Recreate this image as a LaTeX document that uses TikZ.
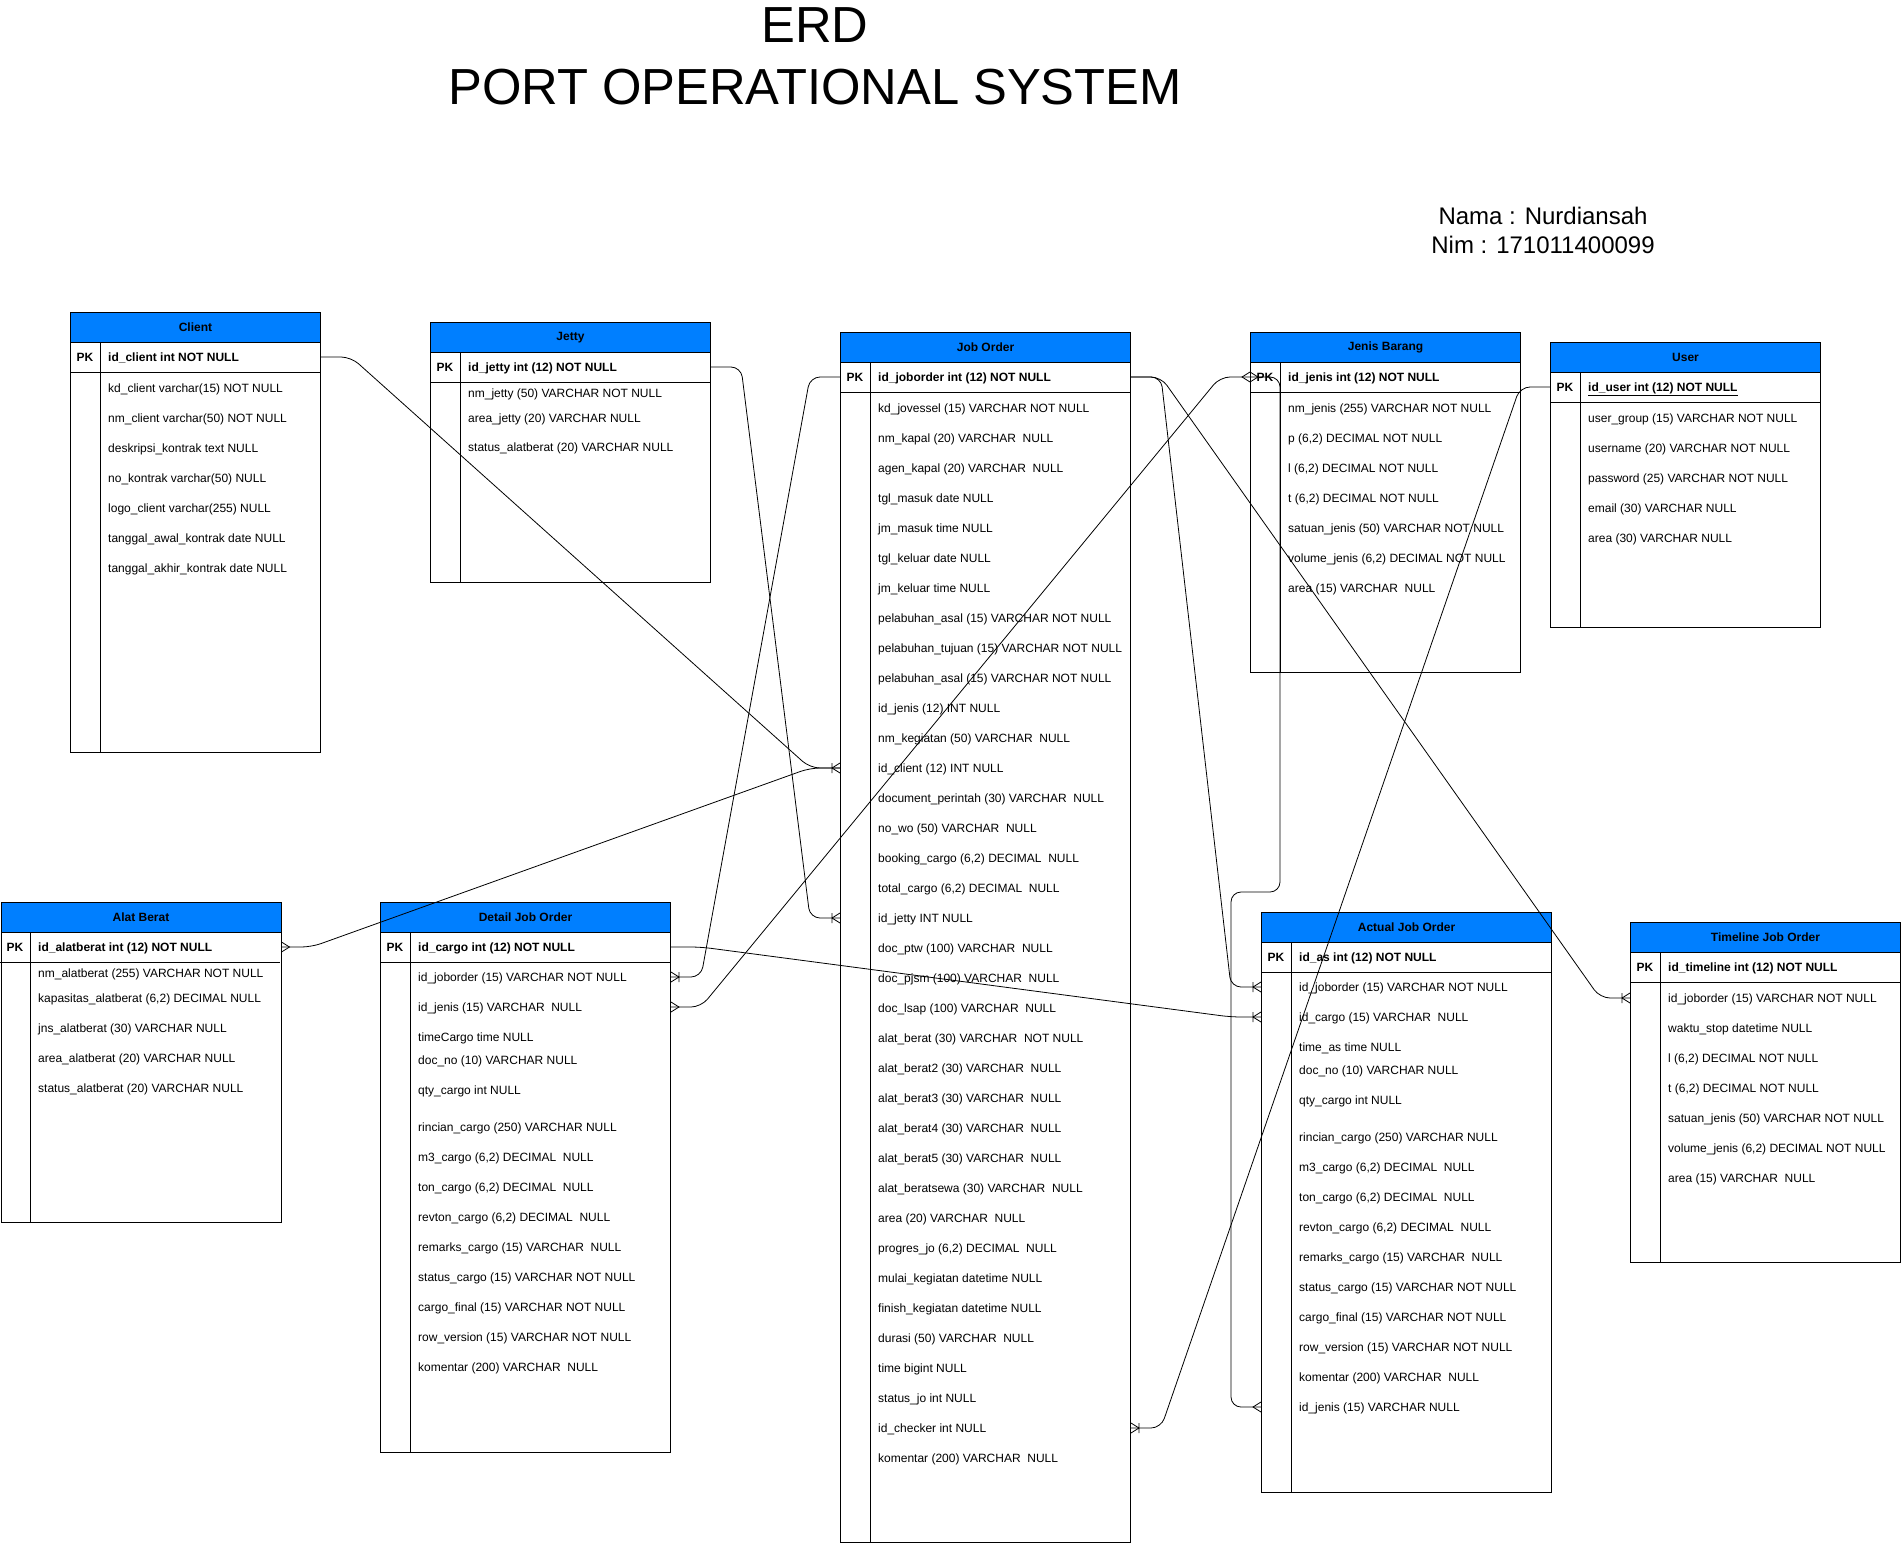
\documentclass[tikz,border=0pt]{standalone}
\usepackage{fontspec}
\setmainfont{Liberation Sans}
\usetikzlibrary{calc}

\newcommand\erfont{\fontsize{12}{14.4}\selectfont}
\definecolor{erblue}{RGB}{0,127,255}
\tikzset{
  entity/.style={draw, line width=1pt, anchor=north west, inner sep=0pt, fill=white},
  head/.style={draw, line width=1pt, fill=erblue, anchor=north west, inner sep=0pt,
    minimum height=30pt, font=\erfont\bfseries},
  pk/.style={inner sep=0pt, text height=8.5pt, text depth=0.3pt, font=\erfont\bfseries},
  fld/.style={anchor=west, inner sep=0pt, text height=8.5pt, text depth=0.3pt},
  keyfld/.style={fld, font=\erfont\bfseries},
  rel/.style={line width=0.8pt, rounded corners=10pt},
  crow/.style={line width=0.8pt},
  many/.pic={\draw[crow] (0,-5) -- (8,0) -- (0,5);},
  onemany/.pic={\draw[crow] (0,-5) -- (8,0) -- (0,5) (8,-5) -- (8,5);}
}

\begin{document}
\begin{tikzpicture}[x=1pt, y=-1pt, font=\erfont]
\useasboundingbox (0,0) rectangle (1901,1544);

%% Title
\node[font=\fontsize{50.7}{61}\selectfont] (title1) at (815,25) {ERD};
\node[font=\fontsize{50.7}{61}\selectfont] (title2) at (815,87) {PORT OPERATIONAL SYSTEM};
\node[font=\fontsize{24}{29}\selectfont] (nama) at (1543,216) {Nama : Nurdiansah};
\node[font=\fontsize{24}{29}\selectfont] (nim) at (1543,245) {Nim : 171011400099};

%% Client
\node[entity, minimum width=250pt, minimum height=440pt] (client) at (70,312) {};
\node[head, minimum width=250pt] (client-h) at (70,312) {Client};
\draw[line width=1pt] (70,372) -- (320,372) (100,342) -- (100,752);
\node[pk] (client-k) at (85,357) {PK};
\node[keyfld] (client-pk) at (108,357) {id\_client int NOT NULL};
\foreach \t [count=\i] in {kd\_client varchar(15) NOT NULL, nm\_client varchar(50) NOT NULL,
  deskripsi\_kontrak text NULL, no\_kontrak varchar(50) NULL, logo\_client varchar(255) NULL,
  tanggal\_awal\_kontrak date NULL, tanggal\_akhir\_kontrak date NULL}
  \node[fld] (client-\i) at (108,358+30*\i) {\t};

%% Jetty
\node[entity, minimum width=280pt, minimum height=260pt] (jetty) at (430,322) {};
\node[head, minimum width=280pt] (jetty-h) at (430,322) {Jetty};
\draw[line width=1pt] (430,382) -- (710,382) (460,352) -- (460,582);
\node[pk] (jetty-k) at (445,367) {PK};
\node[keyfld] (jetty-pk) at (468,367) {id\_jetty int (12) NOT NULL};
\foreach \y/\t [count=\i] in {393/nm\_jetty (50) VARCHAR NOT NULL, 418/area\_jetty (20) VARCHAR NULL,
  447/status\_alatberat (20) VARCHAR NULL}
  \node[fld] (jetty-\i) at (468,\y) {\t};

%% Job Order
\node[entity, minimum width=290pt, minimum height=1210pt] (jo) at (840,332) {};
\node[head, minimum width=290pt] (jo-h) at (840,332) {Job Order};
\draw[line width=1pt] (840,392) -- (1130,392) (870,362) -- (870,1542);
\node[pk] (jo-k) at (855,377) {PK};
\node[keyfld] (jo-pk) at (878,377) {id\_joborder int (12) NOT NULL};
\foreach \t [count=\i] in {kd\_jovessel (15) VARCHAR NOT NULL, nm\_kapal (20) VARCHAR \ NULL,
  agen\_kapal (20) VARCHAR \ NULL, tgl\_masuk date NULL, jm\_masuk time NULL,
  tgl\_keluar date NULL, jm\_keluar time NULL, pelabuhan\_asal (15) VARCHAR NOT NULL,
  pelabuhan\_tujuan (15) VARCHAR NOT NULL, pelabuhan\_asal (15) VARCHAR NOT NULL,
  id\_jenis (12) INT NULL, nm\_kegiatan (50) VARCHAR \ NULL, id\_client (12) INT NULL,
  document\_perintah (30) VARCHAR \ NULL, no\_wo (50) VARCHAR \ NULL,
  {booking\_cargo (6,2) DECIMAL \ NULL}, {total\_cargo (6,2) DECIMAL \ NULL},
  id\_jetty INT NULL, doc\_ptw (100) VARCHAR \ NULL, doc\_pjsm (100) VARCHAR \ NULL,
  doc\_lsap (100) VARCHAR \ NULL, alat\_berat (30) VARCHAR \ NOT NULL,
  alat\_berat2 (30) VARCHAR \ NULL, alat\_berat3 (30) VARCHAR \ NULL,
  alat\_berat4 (30) VARCHAR \ NULL, alat\_berat5 (30) VARCHAR \ NULL,
  alat\_beratsewa (30) VARCHAR \ NULL, area (20) VARCHAR \ NULL,
  {progres\_jo (6,2) DECIMAL \ NULL}, mulai\_kegiatan datetime NULL,
  finish\_kegiatan datetime NULL, durasi (50) VARCHAR \ NULL, time bigint NULL,
  status\_jo int NULL, id\_checker int NULL, komentar (200) VARCHAR \ NULL}
  \node[fld] (jo-\i) at (878,378+30*\i) {\t};

%% Jenis Barang
\node[entity, minimum width=270pt, minimum height=340pt] (jenis) at (1250,332) {};
\node[head, minimum width=270pt] (jenis-h) at (1250,332) {Jenis Barang};
\draw[line width=1pt] (1250,392) -- (1520,392) (1280,362) -- (1280,672);
\node[pk] (jenis-k) at (1265,377) {PK};
\node[keyfld] (jenis-pk) at (1288,377) {id\_jenis int (12) NOT NULL};
\foreach \t [count=\i] in {nm\_jenis (255) VARCHAR NOT NULL, {p (6,2) DECIMAL NOT NULL},
  {l (6,2) DECIMAL NOT NULL}, {t (6,2) DECIMAL NOT NULL}, satuan\_jenis (50) VARCHAR NOT NULL,
  {volume\_jenis (6,2) DECIMAL NOT NULL}, area (15) VARCHAR \ NULL}
  \node[fld] (jenis-\i) at (1288,378+30*\i) {\t};

%% User
\node[entity, minimum width=270pt, minimum height=285pt] (user) at (1550,342) {};
\node[head, minimum width=270pt] (user-h) at (1550,342) {User};
\draw[line width=1pt] (1550,402) -- (1820,402) (1580,372) -- (1580,627);
\node[pk] (user-k) at (1565,387) {PK};
\node[keyfld] (user-pk) at (1588,387) {\underline{id\_user int (12) NOT NULL}};
\foreach \t [count=\i] in {user\_group (15) VARCHAR NOT NULL, username (20) VARCHAR NOT NULL,
  password (25) VARCHAR NOT NULL, email (30) VARCHAR NULL, area (30) VARCHAR NULL}
  \node[fld] (user-\i) at (1588,388+30*\i) {\t};

%% Alat Berat
\node[entity, minimum width=280pt, minimum height=320pt] (alat) at (0.5,902) {};
\node[head, minimum width=280pt] (alat-h) at (0.5,902) {Alat Berat};
\draw[line width=1pt] (0,962) -- (280,962) (30,932) -- (30,1222);
\node[pk] (alat-k) at (15,947) {PK};
\node[keyfld] (alat-pk) at (38,947) {id\_alatberat int (12) NOT NULL};
\foreach \y/\t [count=\i] in {973/nm\_alatberat (255) VARCHAR NOT NULL,
  998/{kapasitas\_alatberat (6,2) DECIMAL NULL}, 1028/jns\_alatberat (30) VARCHAR NULL,
  1058/area\_alatberat (20) VARCHAR NULL, 1088/status\_alatberat (20) VARCHAR NULL}
  \node[fld] (alat-\i) at (38,\y) {\t};

%% Detail Job Order
\node[entity, minimum width=290pt, minimum height=550pt] (det) at (380,902) {};
\node[head, minimum width=290pt] (det-h) at (380,902) {Detail Job Order};
\draw[line width=1pt] (380,962) -- (670,962) (410,932) -- (410,1452);
\node[pk] (det-k) at (395,947) {PK};
\node[keyfld] (det-pk) at (418,947) {id\_cargo int (12) NOT NULL};
\foreach \y/\t [count=\i] in {977/id\_joborder (15) VARCHAR NOT NULL, 1007/id\_jenis (15) VARCHAR \ NULL,
  1037/timeCargo time NULL, 1060/doc\_no (10) VARCHAR NULL, 1090/qty\_cargo int NULL,
  1127/rincian\_cargo (250) VARCHAR NULL, 1157/{m3\_cargo (6,2) DECIMAL \ NULL},
  1187/{ton\_cargo (6,2) DECIMAL \ NULL}, 1217/{revton\_cargo (6,2) DECIMAL \ NULL},
  1247/remarks\_cargo (15) VARCHAR \ NULL, 1277/status\_cargo (15) VARCHAR NOT NULL,
  1307/cargo\_final (15) VARCHAR NOT NULL, 1337/row\_version (15) VARCHAR NOT NULL,
  1367/komentar (200) VARCHAR \ NULL}
  \node[fld] (det-\i) at (418,\y) {\t};

%% Actual Job Order
\node[entity, minimum width=290pt, minimum height=580pt] (act) at (1261,912) {};
\node[head, minimum width=290pt] (act-h) at (1261,912) {Actual Job Order};
\draw[line width=1pt] (1261,972) -- (1551,972) (1291,942) -- (1291,1492);
\node[pk] (act-k) at (1276,957) {PK};
\node[keyfld] (act-pk) at (1299,957) {id\_as int (12) NOT NULL};
\foreach \y/\t [count=\i] in {987/id\_joborder (15) VARCHAR NOT NULL, 1017/id\_cargo (15) VARCHAR \ NULL,
  1047/time\_as time NULL, 1070/doc\_no (10) VARCHAR NULL, 1100/qty\_cargo int NULL,
  1137/rincian\_cargo (250) VARCHAR NULL, 1167/{m3\_cargo (6,2) DECIMAL \ NULL},
  1197/{ton\_cargo (6,2) DECIMAL \ NULL}, 1227/{revton\_cargo (6,2) DECIMAL \ NULL},
  1257/remarks\_cargo (15) VARCHAR \ NULL, 1287/status\_cargo (15) VARCHAR NOT NULL,
  1317/cargo\_final (15) VARCHAR NOT NULL, 1347/row\_version (15) VARCHAR NOT NULL,
  1377/komentar (200) VARCHAR \ NULL, 1407/id\_jenis (15) VARCHAR NULL}
  \node[fld] (act-\i) at (1299,\y) {\t};

%% Timeline Job Order
\node[entity, minimum width=270pt, minimum height=340pt] (tl) at (1630,922) {};
\node[head, minimum width=270pt] (tl-h) at (1630,922) {Timeline Job Order};
\draw[line width=1pt] (1630,982) -- (1900,982) (1660,952) -- (1660,1262);
\node[pk] (tl-k) at (1645,967) {PK};
\node[keyfld] (tl-pk) at (1668,967) {id\_timeline int (12) NOT NULL};
\foreach \t [count=\i] in {id\_joborder (15) VARCHAR NOT NULL, waktu\_stop datetime NULL,
  {l (6,2) DECIMAL NOT NULL}, {t (6,2) DECIMAL NOT NULL}, satuan\_jenis (50) VARCHAR NOT NULL,
  {volume\_jenis (6,2) DECIMAL NOT NULL}, area (15) VARCHAR \ NULL}
  \node[fld] (tl-\i) at (1668,968+30*\i) {\t};

%% Relations
\draw[rel] (client.east |- client-pk) -- ++(30,0) -- ($(jo.west |- jo-13)+(-30,0)$) -- (jo.west |- jo-13);
\draw[rel] (alat.east |- alat-pk) -- ++(30,0) -- ($(jo.west |- jo-13)+(-30,0)$) -- (jo.west |- jo-13);
\draw[rel] (jetty.east |- jetty-pk) -- ++(30,0) -- ($(jo.west |- jo-18)+(-30,0)$) -- (jo.west |- jo-18);
\draw[rel] (det.east |- det-1) -- ++(30,0) -- ($(jo.west |- jo-pk)+(-30,0)$) -- (jo.west |- jo-pk);
\draw[rel] (det.east |- det-2) -- ++(30,0) -- ($(jenis.west |- jenis-pk)+(-30,0)$) -- (jenis.west |- jenis-pk);
\draw[rel] (jo.east |- jo-pk) -- ++(30,0) -- ($(act.west |- act-1)+(-30,0)$) -- (act.west |- act-1);
\draw[rel] (jo.east |- jo-pk) -- ++(30,0) -- ($(tl.west |- tl-1)+(-30,0)$) -- (tl.west |- tl-1);
\draw[rel] (det.east |- det-pk) -- ++(30,0) -- ($(act.west |- act-2)+(-30,0)$) -- (act.west |- act-2);
\draw[rel] (jenis.west |- jenis-pk) -- ++(30,0) -- ++(0,515) -| ($(act.west |- act-15)+(-30,0)$) -- (act.west |- act-15);
\draw[rel] (user.west |- user-pk) -- ++(-30,0) -- ($(jo.east |- jo-35)+(30,0)$) -- (jo.east |- jo-35);

%% Crow's feet
\pic[rotate=180] at (jo.west |- jo-13) {onemany};
\pic[rotate=180] at (jo.west |- jo-18) {onemany};
\pic at (alat.east |- alat-pk) {many};
\pic at (det.east |- det-1) {onemany};
\pic at (det.east |- det-2) {many};
\pic[rotate=180] at (jenis.west |- jenis-pk) {many};
\pic at (jenis.west |- jenis-pk) {many};
\pic[rotate=180] at (act.west |- act-1) {onemany};
\pic[rotate=180] at (act.west |- act-2) {onemany};
\pic[rotate=180] at (act.west |- act-15) {many};
\pic[rotate=180] at (tl.west |- tl-1) {onemany};
\pic at (jo.east |- jo-35) {onemany};
\end{tikzpicture}
\end{document}
